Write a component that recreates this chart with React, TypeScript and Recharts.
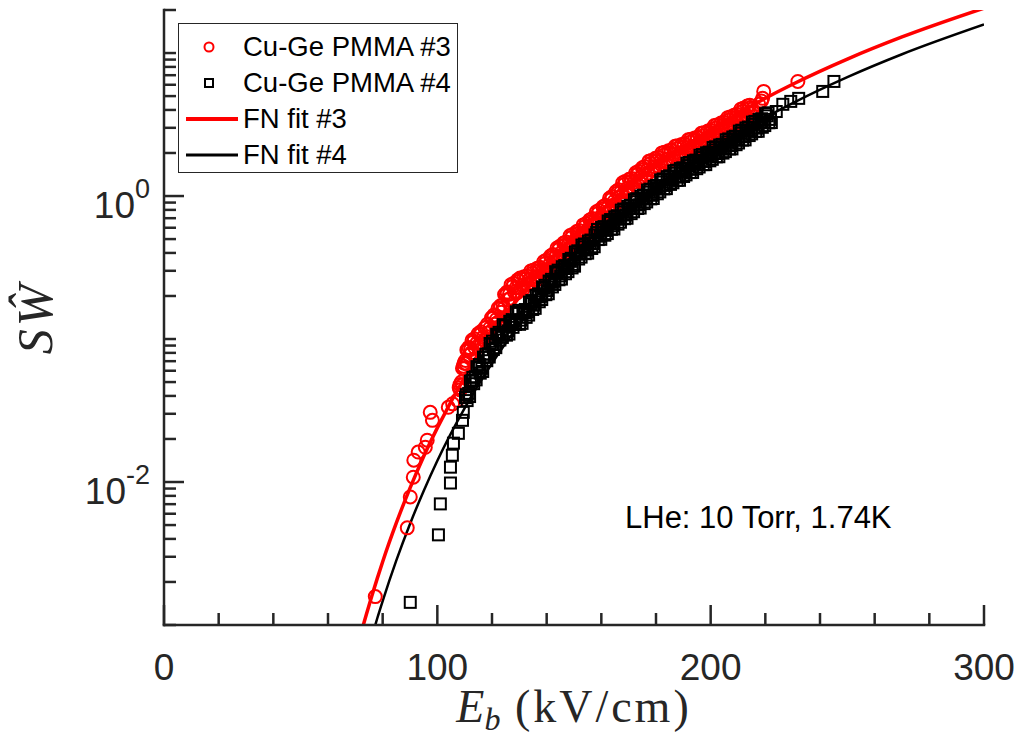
import { ComposedChart, XAxis, YAxis, Scatter, Line, Legend } from 'recharts'

// breakdown field E_b (kV/cm) and cumulative S*W-hat, sample #3 (red circles)
const pmma3E = [
  77.3, 89.0, 90.1, 91.2, 91.4, 93.0, 95.6, 96.3, 97.4, 98.2, 104.0, 105.6, 107.3,
  108.0, 108.8, 109.5, 110.3, 111.2, 112.2, 113.2, 114.4, 115.6, 116.8, 118.0, 119.2,
  120.4, 121.6, 122.8, 124.0, 125.2, 126.4, 127.6, 128.8, 130.0, 131.2, 132.4, 133.6,
  134.8, 136.0, 137.2, 138.4, 139.6, 140.8, 142.0, 143.2, 144.4, 145.6, 146.8, 148.0,
  149.2, 150.4, 151.6, 152.8, 154.0, 155.2, 156.4, 157.6, 158.8, 160.0, 161.2, 162.4,
  163.6, 164.8, 166.0, 167.2, 168.4, 169.6, 170.8, 172.0, 173.2, 174.4, 175.6, 176.8,
  178.0, 179.2, 180.4, 181.6, 182.8, 184.0, 185.2, 186.4, 187.6, 188.8, 190.0, 191.2,
  192.4, 193.6, 194.8, 196.0, 197.2, 198.4, 199.6, 200.8, 202.0, 203.2, 204.4, 205.6,
  206.8, 208.0, 209.2, 210.4, 211.6, 212.8, 214.0, 215.2,
  217.6, 218.6, 219.0, 219.4, 231.9,
  108.4, 109.2, 109.9, 110.8, 111.7, 112.7, 113.8, 115.0, 116.2, 117.4, 118.6, 119.8,
  121.0, 122.2, 123.4, 124.6, 125.8, 127.0, 128.2, 129.4, 130.6, 131.8, 133.0, 134.2,
  135.4, 136.6, 137.8, 139.0, 140.2, 141.4, 142.6, 143.8, 145.0, 146.2, 147.4, 148.6,
  149.8, 151.0, 152.2, 153.4, 154.6, 155.8, 157.0, 158.2, 159.4, 160.6, 161.8, 163.0,
  164.2, 165.4, 166.6, 167.8, 169.0, 170.2, 171.4, 172.6, 173.8, 175.0, 176.2, 177.4,
  178.6, 179.8, 181.0, 182.2, 183.4, 184.6, 185.8, 187.0, 188.2, 189.4, 190.6, 191.8,
  193.0, 194.2, 195.4, 196.6, 197.8, 199.0, 200.2, 201.4, 202.6, 203.8, 205.0, 206.2,
  207.4, 208.6, 209.8, 211.0, 212.2, 213.4, 214.6,
  108.3, 109.1, 109.8, 110.6, 111.5, 112.5, 113.5, 114.7, 115.9, 117.1, 118.3, 119.5,
  120.7, 121.9, 123.1, 124.3, 125.5, 126.7, 127.9, 129.1, 130.3, 131.5, 132.7, 133.9,
  135.1, 136.3, 137.5, 138.7, 139.9, 141.1, 142.3, 143.5, 144.7, 145.9, 147.1, 148.3,
  149.5, 150.7, 151.9, 153.1, 154.3, 155.5, 156.7, 157.9, 159.1, 160.3, 161.5, 162.7,
  163.9, 165.1, 166.3, 167.5, 168.7, 169.9, 171.1, 172.3, 173.5, 174.7, 175.9, 177.1,
  178.3, 179.5, 180.7, 181.9, 183.1, 184.3, 185.5, 186.7, 187.9, 189.1, 190.3, 191.5,
  192.7, 193.9, 195.1, 196.3, 197.5, 198.7, 199.9, 201.1, 202.3, 203.5, 204.7, 205.9,
  207.1, 208.3, 209.5, 210.7, 211.9, 213.1, 214.3, 215.5,
]
const pmma3SW = [
  0.00158, 0.00478, 0.00786, 0.0108, 0.0142, 0.0162, 0.0175, 0.0196, 0.0307, 0.027, 0.0333, 0.0352, 0.0373,
  0.0457, 0.0501, 0.0646, 0.0708, 0.0832, 0.0845, 0.0955, 0.0933, 0.107, 0.103, 0.121, 0.119,
  0.14, 0.137, 0.163, 0.173, 0.203, 0.206, 0.233, 0.228, 0.254, 0.237, 0.263, 0.26,
  0.288, 0.272, 0.302, 0.299, 0.339, 0.327, 0.372, 0.373, 0.422, 0.406, 0.455, 0.457,
  0.513, 0.49, 0.546, 0.543, 0.61, 0.586, 0.664, 0.668, 0.755, 0.724, 0.82, 0.828,
  0.944, 0.923, 1.052, 1.067, 1.202, 1.135, 1.265, 1.253, 1.413, 1.358, 1.531, 1.521,
  1.69, 1.6, 1.77, 1.746, 1.928, 1.807, 1.991, 1.95, 2.143, 2.004, 2.203, 2.163,
  2.377, 2.223, 2.449, 2.399, 2.642, 2.483, 2.748, 2.71, 2.992, 2.818, 3.119, 3.076,
  3.396, 3.199, 3.548, 3.516, 3.908, 3.698, 4.111, 4.055,
  4.38, 4.62, 4.82, 5.39, 6.33,
  0.0441, 0.0625, 0.0623, 0.0839, 0.0771, 0.0981, 0.0868, 0.109, 0.0947, 0.12, 0.11, 0.141,
  0.127, 0.164, 0.154, 0.205, 0.188, 0.24, 0.213, 0.259, 0.226, 0.273, 0.241, 0.299,
  0.258, 0.313, 0.277, 0.348, 0.306, 0.381, 0.343, 0.433, 0.381, 0.469, 0.42, 0.529,
  0.461, 0.565, 0.501, 0.628, 0.55, 0.681, 0.613, 0.776, 0.68, 0.842, 0.758, 0.966,
  0.859, 1.076, 0.975, 1.237, 1.075, 1.308, 1.158, 1.453, 1.275, 1.575, 1.404, 1.75,
  1.513, 1.837, 1.617, 2.002, 1.718, 2.07, 1.813, 2.231, 1.908, 2.293, 2.008, 2.474,
  2.116, 2.546, 2.23, 2.747, 2.358, 2.851, 2.511, 3.108, 2.673, 3.236, 2.85, 3.527,
  3.034, 3.677, 3.249, 4.046, 3.499, 4.256, 3.756,
  0.048, 0.0476, 0.0678, 0.0673, 0.0874, 0.0803, 0.1003, 0.0886, 0.1124, 0.098, 0.127, 0.113,
  0.147, 0.13, 0.171, 0.164, 0.213, 0.193, 0.245, 0.21, 0.2667, 0.2252, 0.2762, 0.247,
  0.3024, 0.2584, 0.3171, 0.2841, 0.356, 0.3107, 0.3906, 0.3544, 0.4431, 0.3857, 0.4778, 0.4342,
  0.5387, 0.4655, 0.5733, 0.5159, 0.6405, 0.5567, 0.6972, 0.6346, 0.7928, 0.6878, 0.861, 0.7866,
  0.9912, 0.8769, 1.1046, 1.0137, 1.2621, 1.0783, 1.3283, 1.1904, 1.4837, 1.2901, 1.6076, 1.445,
  1.7745, 1.52, 1.8585, 1.6587, 2.0244, 1.7167, 2.0906, 1.8525, 2.2502, 1.9038, 2.3132, 2.0549,
  2.4959, 2.1119, 2.5715, 2.279, 2.7741, 2.3589, 2.8854, 2.5745, 3.1416, 2.6771, 3.275, 2.9222,
  3.5658, 3.0391, 3.7254, 3.3402, 4.1034, 3.5131, 4.3166, 3.8523,
]

// sample #4 (black squares)
const pmma4E = [
  90.1, 100.4, 101.1, 104.8, 104.8, 105.5, 105.9, 107.7, 109.2, 109.5,
  110.3, 111.5, 112.7, 113.9, 115.1, 116.3, 117.5, 118.7, 119.9, 121.1, 122.3, 123.5,
  124.7, 125.9, 127.1, 128.3, 129.5, 130.7, 131.9, 133.1, 134.3, 135.5, 136.7, 137.9,
  139.1, 140.3, 141.5, 142.7, 143.9, 145.1, 146.3, 147.5, 148.7, 149.9, 151.1, 152.3,
  153.5, 154.7, 155.9, 157.1, 158.3, 159.5, 160.7, 161.9, 163.1, 164.3, 165.5, 166.7,
  167.9, 169.1, 170.3, 171.5, 172.7, 173.9, 175.1, 176.3, 177.5, 178.7, 179.9, 181.1,
  182.3, 183.5, 184.7, 185.9, 187.1, 188.3, 189.5, 190.7, 191.9, 193.1, 194.3, 195.5,
  196.7, 197.9, 199.1, 200.3, 201.5, 202.7, 203.9, 205.1, 206.3, 207.5, 208.7, 209.9,
  211.1, 212.3, 213.5, 214.7, 215.9, 217.1, 218.3, 219.5, 220.7, 221.9,
  224.0, 226.4, 229.3, 232.2, 241.0, 245.1,
  110.9, 112.1, 113.3, 114.5, 115.7, 116.9, 118.1, 119.3, 120.5, 121.7, 122.9, 124.1,
  125.3, 126.5, 127.7, 128.9, 130.1, 131.3, 132.5, 133.7, 134.9, 136.1, 137.3, 138.5,
  139.7, 140.9, 142.1, 143.3, 144.5, 145.7, 146.9, 148.1, 149.3, 150.5, 151.7, 152.9,
  154.1, 155.3, 156.5, 157.7, 158.9, 160.1, 161.3, 162.5, 163.7, 164.9, 166.1, 167.3,
  168.5, 169.7, 170.9, 172.1, 173.3, 174.5, 175.7, 176.9, 178.1, 179.3, 180.5, 181.7,
  182.9, 184.1, 185.3, 186.5, 187.7, 188.9, 190.1, 191.3, 192.5, 193.7, 194.9, 196.1,
  197.3, 198.5, 199.7, 200.9, 202.1, 203.3, 204.5, 205.7, 206.9, 208.1, 209.3, 210.5,
  211.7, 212.9, 214.1, 215.3, 216.5, 217.7, 218.9, 220.1, 221.3,
  110.6, 111.8, 113.0, 114.2, 115.4, 116.6, 117.8, 119.0, 120.2, 121.4, 122.6, 123.8,
  125.0, 126.2, 127.4, 128.6, 129.8, 131.0, 132.2, 133.4, 134.6, 135.8, 137.0, 138.2,
  139.4, 140.6, 141.8, 143.0, 144.2, 145.4, 146.6, 147.8, 149.0, 150.2, 151.4, 152.6,
  153.8, 155.0, 156.2, 157.4, 158.6, 159.8, 161.0, 162.2, 163.4, 164.6, 165.8, 167.0,
  168.2, 169.4, 170.6, 171.8, 173.0, 174.2, 175.4, 176.6, 177.8, 179.0, 180.2, 181.4,
  182.6, 183.8, 185.0, 186.2, 187.4, 188.6, 189.8, 191.0, 192.2, 193.4, 194.6, 195.8,
  197.0, 198.2, 199.4, 200.6, 201.8, 203.0, 204.2, 205.4, 206.6, 207.8, 209.0, 210.2,
  211.4, 212.6, 213.8, 215.0, 216.2, 217.4, 218.6, 219.8, 221.0, 222.2,
]
const pmma4SW = [
  0.00144, 0.00427, 0.00703, 0.00984, 0.0127, 0.0154, 0.0187, 0.0219, 0.027, 0.0307,
  0.0389, 0.0417, 0.0513, 0.0545, 0.0631, 0.0624, 0.0746, 0.0787, 0.092, 0.0916, 0.106, 0.108,
  0.124, 0.114, 0.13, 0.133, 0.151, 0.1355, 0.1531, 0.1549, 0.1769, 0.1725, 0.1971, 0.1989,
  0.2262, 0.2182, 0.249, 0.2534, 0.2886, 0.2763, 0.3106, 0.3115, 0.3494, 0.3326, 0.3943, 0.3934,
  0.4399, 0.4194, 0.4687, 0.465, 0.555, 0.524, 0.582, 0.575, 0.652, 0.619, 0.693, 0.69,
  0.773, 0.736, 0.82, 0.817, 0.912, 0.867, 0.966, 0.957, 1.064, 1.012, 1.13, 1.125,
  1.253, 1.186, 1.318, 1.303, 1.442, 1.355, 1.5, 1.479, 1.633, 1.538, 1.698, 1.679,
  1.858, 1.746, 1.932, 1.901, 2.104, 1.982, 2.188, 2.153, 2.388, 2.249, 2.495, 2.472,
  2.748, 2.6, 2.891, 2.864, 3.17, 2.985, 3.304, 3.273, 3.639, 3.436,
  3.9, 4.38, 4.59, 4.82, 5.39, 6.33,
  0.0371, 0.0507, 0.0487, 0.0641, 0.0577, 0.0747, 0.0705, 0.093, 0.0845, 0.108, 0.0984, 0.126,
  0.1064, 0.133, 0.1207, 0.1549, 0.1267, 0.1575, 0.1417, 0.1813, 0.161, 0.2015, 0.1822, 0.2314,
  0.2042, 0.2543, 0.2314, 0.2957, 0.2596, 0.3203, 0.286, 0.3599, 0.3142, 0.4064, 0.3627, 0.4538,
  0.3953, 0.4845, 0.4297, 0.5348, 0.496, 0.603, 0.532, 0.669, 0.585, 0.715, 0.636, 0.797,
  0.694, 0.848, 0.753, 0.942, 0.818, 0.999, 0.885, 1.101, 0.955, 1.167, 1.037, 1.296,
  1.122, 1.365, 1.206, 1.496, 1.287, 1.556, 1.37, 1.696, 1.459, 1.764, 1.553, 1.928,
  1.658, 2.005, 1.763, 2.183, 1.88, 2.273, 1.997, 2.475, 2.133, 2.586, 2.285, 2.845,
  2.46, 2.993, 2.647, 3.289, 2.831, 3.428, 3.025, 3.767, 3.255,
  0.0408, 0.0396, 0.0539, 0.0518, 0.0663, 0.0593, 0.0783, 0.0748, 0.0966, 0.087, 0.1113, 0.1026,
  0.1237, 0.1083, 0.1367, 0.1264, 0.1587, 0.1287, 0.1608, 0.1471, 0.1858, 0.1639, 0.207, 0.1889,
  0.2375, 0.2073, 0.2615, 0.2408, 0.3031, 0.2625, 0.3262, 0.2959, 0.3669, 0.3232, 0.414, 0.3738,
  0.4619, 0.3985, 0.4922, 0.4418, 0.5828, 0.4978, 0.6111, 0.5463, 0.6846, 0.5881, 0.7277, 0.6555,
  0.8117, 0.6992, 0.861, 0.7762, 0.9576, 0.8237, 1.0143, 0.9092, 1.1172, 0.9614, 1.1865, 1.0688,
  1.3157, 1.1267, 1.3839, 1.2379, 1.5141, 1.2873, 1.575, 1.405, 1.7147, 1.4611, 1.7829, 1.595,
  1.9509, 1.6587, 2.0286, 1.806, 2.2092, 1.8829, 2.2974, 2.0454, 2.5074, 2.1366, 2.6198, 2.3484,
  2.8854, 2.47, 3.0356, 2.7208, 3.3285, 2.8358, 3.4692, 3.1094, 3.821, 3.2642,
]

// Fowler-Nordheim fit curves
const fit3E = [72, 74, 76, 78, 80, 85, 90, 95, 100, 110, 120, 135, 150, 170, 190, 210, 230, 250, 270, 300]
const fit3SW = [0.000868, 0.00118, 0.00159, 0.00211, 0.00277, 0.00517, 0.00907, 0.0151, 0.0239, 0.054, 0.108, 0.257, 0.527, 1.157, 2.207, 3.798, 6.047, 9.068, 12.95, 20.6]
const fit4E = [76, 78, 80, 85, 90, 95, 100, 110, 120, 135, 150, 170, 190, 210, 230, 250, 270, 300]
const fit4SW = [0.000823, 0.00111, 0.00147, 0.00283, 0.00509, 0.00866, 0.0141, 0.0329, 0.0677, 0.168, 0.354, 0.802, 1.57, 2.757, 4.465, 6.788, 9.813, 15.85]

const xTicks = [0, 20, 40, 60, 80, 100, 120, 140, 160, 180, 200, 220, 240, 260, 280, 300]
const xLabelTicks = [0, 100, 200, 300]
const yTicks = [
  0.001, 0.002, 0.003, 0.004, 0.005, 0.006, 0.007, 0.008, 0.009,
  0.01, 0.02, 0.03, 0.04, 0.05, 0.06, 0.07, 0.08, 0.09,
  0.1, 0.2, 0.3, 0.4, 0.5, 0.6, 0.7, 0.8, 0.9,
  1, 2, 3, 4, 5, 6, 7, 8, 9, 10, 20,
]
const yLabelTicks = [0.01, 1]
const yLabelExps = ['-2', '0']

const legendNames = ['Cu-Ge PMMA #3', 'Cu-Ge PMMA #4', 'FN fit #3', 'FN fit #4']

const toPts = (xs: number[], ys: number[]) => xs.map((x, i) => ({ x, y: ys[i] }))

const AXIS = '#262626'
const RED = '#ff0000'
const SANS = '"Liberation Sans", Arial, Helvetica, sans-serif'
const SERIF = '"Liberation Serif", "Times New Roman", serif'
const MAJOR = 20
const MINOR = 12

const axisLine = { stroke: AXIS, strokeWidth: 2.5, strokeLinecap: 'square' as const }

function BottomTick({ x, y, payload }: any) {
  const major = xLabelTicks.includes(payload.value)
  return (
    <g>
      <line x1={x} x2={x} y1={y} y2={y - (major ? MAJOR : MINOR)} stroke={AXIS} strokeWidth={2.5} />
      {major && (
        <text x={x} y={y + 55} textAnchor="middle" fontSize={37} fontFamily={SANS} fill={AXIS}>
          {payload.value}
        </text>
      )}
    </g>
  )
}

function TopTick({ x, y, payload }: any) {
  const major = xLabelTicks.includes(payload.value)
  return <line x1={x} x2={x} y1={y} y2={y + (major ? MAJOR : MINOR)} stroke={AXIS} strokeWidth={2.5} />
}

function LeftTick({ x, y, payload }: any) {
  const idx = yLabelTicks.indexOf(payload.value)
  const major = idx >= 0
  return (
    <g>
      <line x1={x} x2={x + (major ? MAJOR : MINOR)} y1={y} y2={y} stroke={AXIS} strokeWidth={2.5} />
      {major && (
        <text x={x - 14} y={y + 22} textAnchor="end" fontSize={37} fontFamily={SANS} fill={AXIS}>
          10
          <tspan dy={-20} fontSize={27}>{yLabelExps[idx]}</tspan>
        </text>
      )}
    </g>
  )
}

function RightTick({ x, y, payload }: any) {
  const major = yLabelTicks.includes(payload.value)
  return <line x1={x} x2={x - (major ? MAJOR : MINOR)} y1={y} y2={y} stroke={AXIS} strokeWidth={2.5} />
}

function CircleMark({ cx, cy }: any) {
  return <circle cx={cx} cy={cy} r={6.5} fill="none" stroke={RED} strokeWidth={2} />
}

function SquareMark({ cx, cy }: any) {
  return <rect x={cx - 5.5} y={cy - 5.5} width={11} height={11} fill="none" stroke="#000" strokeWidth={2} />
}

function LegendBox() {
  const sample = (i: number) => {
    if (i === 0) return <circle cx={30} cy={18} r={4.5} fill="none" stroke={RED} strokeWidth={2} />
    if (i === 1) return <rect x={26} y={14} width={8} height={8} fill="none" stroke="#000" strokeWidth={2} />
    return <line x1={7} x2={59} y1={18} y2={18} stroke={i === 2 ? RED : '#000'} strokeWidth={i === 2 ? 4 : 3} />
  }
  return (
    <div
      style={{
        boxSizing: 'border-box',
        width: 280,
        height: 150,
        border: `1.5px solid ${AXIS}`,
        background: '#fff',
        paddingTop: 5,
      }}
    >
      {legendNames.map((name, i) => (
        <div key={name} style={{ display: 'flex', alignItems: 'center', height: 36 }}>
          <svg width={64} height={36} style={{ flex: 'none' }}>
            {sample(i)}
          </svg>
          <span style={{ fontFamily: SANS, fontSize: 27.5, color: '#000', whiteSpace: 'nowrap' }}>{name}</span>
        </div>
      ))}
    </div>
  )
}

export default function App() {
  const w = 1021
  const h = 743
  return (
    <div style={{ position: 'absolute', left: 0, top: 0, width: w, height: h, background: '#fff' }}>
      <ComposedChart width={w} height={h} margin={{ top: 10, right: 37, bottom: 0, left: 0 }}>
        <XAxis
          dataKey="x"
          type="number"
          domain={[0, 300]}
          allowDataOverflow
          ticks={xTicks}
          interval={0}
          height={118}
          tickSize={0}
          tickMargin={0}
          tick={BottomTick}
          axisLine={axisLine}
        />
        <XAxis
          xAxisId="top"
          orientation="top"
          type="number"
          domain={[0, 300]}
          allowDataOverflow
          ticks={xTicks}
          interval={0}
          height={0}
          tickSize={0}
          tickMargin={0}
          tick={TopTick}
          axisLine={axisLine}
        />
        <YAxis
          dataKey="y"
          type="number"
          scale="log"
          domain={[0.001, 20]}
          allowDataOverflow
          ticks={yTicks}
          interval={0}
          width={164}
          tickSize={0}
          tickMargin={0}
          tick={LeftTick}
          axisLine={axisLine}
        />
        <YAxis
          yAxisId="right"
          orientation="right"
          type="number"
          scale="log"
          domain={[0.001, 20]}
          allowDataOverflow
          ticks={yTicks}
          interval={0}
          width={0}
          tickSize={0}
          tickMargin={0}
          tick={RightTick}
          axisLine={axisLine}
        />
        <Scatter data={toPts(pmma3E, pmma3SW)} shape={CircleMark} isAnimationActive={false} />
        <Scatter data={toPts(pmma4E, pmma4SW)} shape={SquareMark} isAnimationActive={false} />
        <Line
          data={toPts(fit3E, fit3SW)}
          dataKey="y"
          type="monotone"
          stroke={RED}
          strokeWidth={3.5}
          dot={false}
          activeDot={false}
          isAnimationActive={false}
        />
        <Line
          data={toPts(fit4E, fit4SW)}
          dataKey="y"
          type="monotone"
          stroke="#000"
          strokeWidth={2.5}
          dot={false}
          activeDot={false}
          isAnimationActive={false}
        />
        <Legend
          layout="vertical"
          align="center"
          verticalAlign="middle"
          content={() => <LegendBox />}
          wrapperStyle={{ left: 178, top: 23, width: 280, height: 150 }}
        />
      </ComposedChart>
      <svg width={w} height={h} style={{ position: 'absolute', left: 0, top: 0, pointerEvents: 'none' }}>
        <text x={625} y={528} fontFamily={SANS} fontSize={31} fill="#000">
          LHe: 10 Torr, 1.74K
        </text>
        <text x={574} y={722} textAnchor="middle" fontFamily={SERIF} fontSize={46} fill={AXIS}>
          <tspan fontStyle="italic">E</tspan>
          <tspan fontStyle="italic" fontSize={32} dy={8}>b</tspan>
          <tspan dy={-8} letterSpacing={3}> (kV/cm)</tspan>
        </text>
        <text
          x={52}
          y={318}
          textAnchor="middle"
          fontFamily={SERIF}
          fontSize={50}
          fontStyle="italic"
          letterSpacing={3}
          fill={AXIS}
          transform="rotate(-90 52 318)"
        >
          SŴ
        </text>
      </svg>
    </div>
  )
}
